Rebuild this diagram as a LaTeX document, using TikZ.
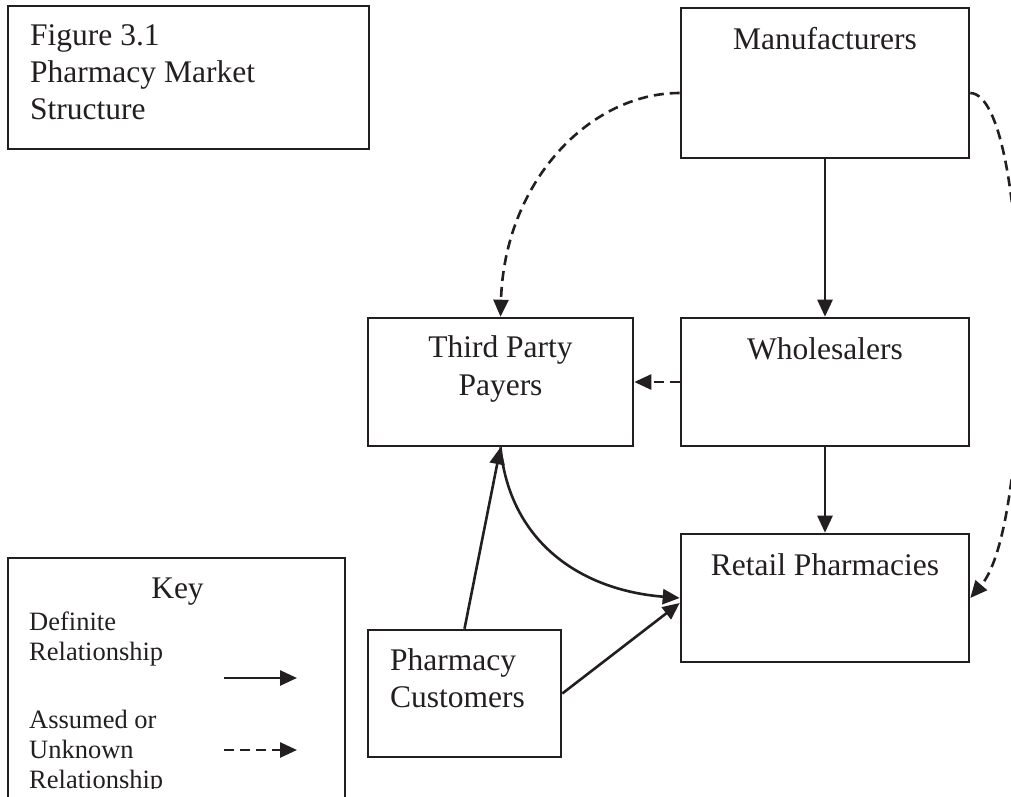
\documentclass[tikz,border=0pt]{standalone}
\usepackage{fontspec}
\setmainfont{Liberation Serif}
\usetikzlibrary{arrows.meta,calc}
\definecolor{ink}{RGB}{35,31,32}
\begin{document}
\begin{tikzpicture}[x=1pt,y=-1pt,
  box/.style={draw=ink,line width=2.6pt,rectangle,inner sep=0pt},
  lbl/.style={anchor=base,inner sep=0pt,text=ink,font=\fontsize{31.5}{37}\selectfont},
  klbl/.style={anchor=base west,inner sep=0pt,text=ink,font=\fontsize{26.5}{30}\selectfont},
  conn/.style={draw=ink,line width=2.6pt,-{Triangle[length=17pt,width=15pt]}},
  dconn/.style={conn,dash pattern=on 10pt off 6pt}]
\useasboundingbox (0,0) rectangle (1011,796);
% boxes
\node[box,minimum width=361,minimum height=143] (title) at (188.5,77.5) {};
\node[box,minimum width=288,minimum height=150] (man) at (825,83) {};
\node[box,minimum width=288,minimum height=128] (whole) at (825,382) {};
\node[box,minimum width=288,minimum height=128] (ret) at (825,598) {};
\node[box,minimum width=265,minimum height=128] (tpp) at (500.5,382) {};
\node[box,minimum width=193,minimum height=127] (pc) at (464.5,693.5) {};
\node[box,minimum width=337,minimum height=260] (key) at (176.5,688) {};
% texts
\node[klbl,font=\fontsize{31.5}{37}\selectfont] (t1) at (30,45) {Figure 3.1};
\node[klbl,font=\fontsize{31.5}{37}\selectfont] (t2) at (30,82) {Pharmacy Market};
\node[klbl,font=\fontsize{31.5}{37}\selectfont] (t3) at (30,119) {Structure};
\node[lbl] (mant) at (825,49) {Manufacturers};
\node[lbl] (wholet) at (825,359) {Wholesalers};
\node[lbl] (rett) at (825,575) {Retail Pharmacies};
\node[lbl] (tppt1) at (500.5,357) {Third Party};
\node[lbl] (tppt2) at (500.5,395) {Payers};
\node[klbl,font=\fontsize{31.5}{37}\selectfont] (pct1) at (390,670) {Pharmacy};
\node[klbl,font=\fontsize{31.5}{37}\selectfont] (pct2) at (390,707) {Customers};
\begin{scope}
\clip (0,0) rectangle (1011,788);
\node[lbl] (keyt) at (177.5,598) {Key};
\node[klbl] (k1) at (29,630) {Definite};
\node[klbl] (k2) at (29,660) {Relationship};
\node[klbl] (k3) at (29,728) {Assumed or};
\node[klbl] (k4) at (29,758) {Unknown};
\node[klbl] (k5) at (29,788) {Relationship};
\end{scope}
% key arrows
\coordinate (ks1) at (224,678);
\coordinate (ke1) at (297,678);
\coordinate (ks2) at (224,750);
\coordinate (ke2) at (297,750);
\draw[conn] (ks1) -- (ke1);
\draw[dconn] (ks2) -- (ke2);
% connectors
\coordinate (mw) at ($(man.west)+(0,10)$);
\coordinate (me) at ($(man.east)+(0,10)$);
\draw[conn] (man.south) -- (whole.north);
\draw[conn] (whole.south) -- (ret.north);
\draw[dconn] (whole.west) -- (tpp.east);
\draw[dconn] (mw) .. controls ($(mw)+(-90,0)$) and ($(tpp.north)+(4,-135)$) .. (tpp.north);
\draw[dconn] (me) .. controls ($(me)+(61,2)$) and ($(ret.east)+(66,-77)$) .. (ret.east);
\draw[conn] (pc.north) -- (tpp.south);
\draw[conn] (tpp.south) .. controls ($(tpp.south)+(9,94)$) and ($(ret.west)+(-100,-8)$) .. (ret.west);
\draw[conn] (pc.east) -- ($(ret.west)+(0,5)$);
\end{tikzpicture}
\end{document}
